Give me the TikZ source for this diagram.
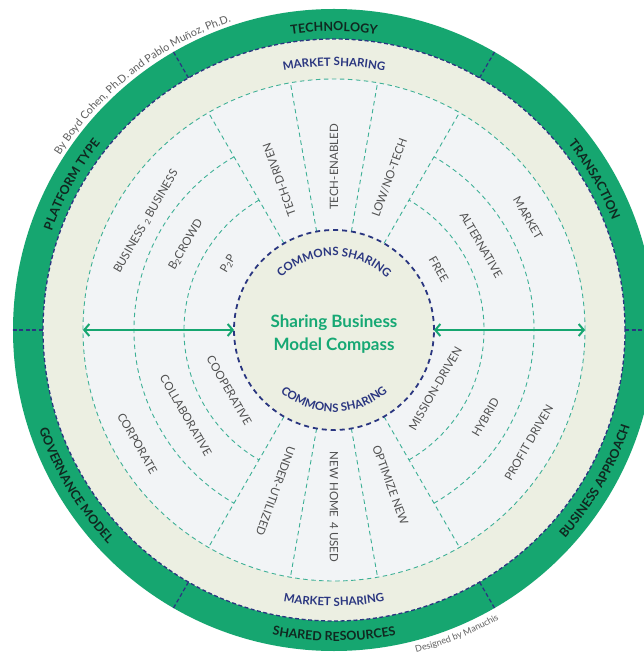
\documentclass[tikz,border=0pt]{standalone}
\usepackage{fontspec}
\setmainfont{Lato}
\usetikzlibrary{decorations.text,arrows.meta}
\definecolor{ringgreen}{RGB}{22,166,112}
\definecolor{beige}{RGB}{236,239,226}
\definecolor{innerfill}{RGB}{242,244,246}
\definecolor{tealdash}{RGB}{62,176,150}
\definecolor{navy}{RGB}{42,54,128}
\definecolor{centergreen}{RGB}{22,168,116}
\definecolor{labelgray}{RGB}{80,80,80}
\definecolor{ringtext}{RGB}{16,40,32}
\definecolor{creditgray}{RGB}{95,95,95}
\newcommand{\ringfont}{\bfseries\fontsize{12.5}{13}\selectfont}
\newcommand{\marketfont}{\bfseries\fontsize{11.5}{12}\selectfont}
\newcommand{\subtwo}{{\fontsize{8}{8}\selectfont\raisebox{-1.5pt}{2}}}
% clockwise arc text (tops outward): radius, centre angle, half span, text
\newcommand{\cwtext}[4]{%
  \pgfmathsetmacro{\sa}{#2+#3}\pgfmathsetmacro{\ea}{#2-#3}%
  \path[decorate,decoration={text along path,text align=center,text={#4}}]
    (\sa:#1) arc[start angle=\sa,end angle=\ea,radius=#1];}
% counter-clockwise arc text (tops inward)
\newcommand{\ccwtext}[4]{%
  \pgfmathsetmacro{\sa}{#2-#3}\pgfmathsetmacro{\ea}{#2+#3}%
  \path[decorate,decoration={text along path,text align=center,text={#4}}]
    (\sa:#1) arc[start angle=\sa,end angle=\ea,radius=#1];}
\tikzset{
  teald/.style={draw=tealdash,line width=0.9pt,dash pattern=on 4.5pt off 3.5pt},
  ringdiv/.style={draw=navy,line width=1.3pt,dash pattern=on 4pt off 2.5pt},
  commonsd/.style={draw=navy,line width=1.8pt,dash pattern=on 5pt off 4pt},
  seclabel/.style={text=labelgray,font=\fontsize{11.5}{12}\selectfont,inner sep=0pt},
  comparrow/.style={draw=ringgreen,line width=2pt,
    {Straight Barb[length=5pt,width=12pt]}-{Straight Barb[length=5pt,width=12pt]}},
}
\begin{document}
\begin{tikzpicture}[x=1pt,y=1pt]
\useasboundingbox (-334,-325) rectangle (310,330);
\clip (-334,-325) rectangle (310,330);
\fill[white] (-334,-325) rectangle (310,330);
% discs
\fill[ringgreen] (0,0) circle[radius=321];
\fill[beige] (0,0) circle[radius=291];
\fill[innerfill] (0,0) circle[radius=251];
\fill[beige] (0,0) circle[radius=100];
% ring boundary and dividers
\draw[ringdiv] (0,0) circle[radius=291];
\foreach \a in {0,60,120,180,240,300}{
  \coordinate (ri\a) at (\a:291); \coordinate (ro\a) at (\a:321);
  \draw[ringdiv] (ri\a) -- (ro\a);
}
% sector structure
\draw[teald] (0,0) circle[radius=251];
\foreach \a in {60,80,100,120,240,260,280,300}{
  \coordinate (si\a) at (\a:100); \coordinate (so\a) at (\a:251);
  \draw[teald] (si\a) -- (so\a);
}
\foreach \r in {150,200}{
  \draw[teald] (-60:\r) arc[start angle=-60,end angle=60,radius=\r];
  \draw[teald] (120:\r) arc[start angle=120,end angle=240,radius=\r];
}
\draw[commonsd] (0,0) circle[radius=100];
% arrows
\coordinate (lo) at (180:251); \coordinate (li) at (180:100);
\coordinate (ro) at (0:251); \coordinate (rin) at (0:100);
\draw[comparrow] (lo) -- (li);
\draw[comparrow] (rin) -- (ro);
% centre title
\node[text=centergreen,font=\bfseries\fontsize{17}{22.5}\selectfont,align=center] (title) at (0,-4) {Sharing Business\\Model Compass};
% outer ring labels
\cwtext{299}{90}{40}{|\ringfont\color{ringtext}|TECHNOLOGY}
\cwtext{299}{30}{40}{|\ringfont\color{ringtext}|TRANSACTION}
\cwtext{299}{151}{40}{|\ringfont\color{ringtext}|PLATFORM TYPE}
\ccwtext{311}{-90}{40}{|\ringfont\color{ringtext}|SHARED RESOURCES}
\ccwtext{311}{-30}{40}{|\ringfont\color{ringtext}|BUSINESS APPROACH}
\ccwtext{311}{211}{40}{|\ringfont\color{ringtext}|GOVERNANCE MODEL}
% market sharing
\cwtext{264}{90}{40}{|\marketfont\color{navy}|MARKET SHARING}
\ccwtext{276}{-90}{40}{|\marketfont\color{navy}|MARKET SHARING}
% commons sharing
\cwtext{74}{90}{80}{|\marketfont\color{navy}|COMMONS SHARING}
\ccwtext{82}{-90}{80}{|\marketfont\color{navy}|COMMONS SHARING}
% credits
\cwtext{325}{128}{40}{|\fontsize{10.8}{11}\selectfont\color{creditgray}|By Boyd Cohen, Ph.D. and Pablo Muñoz, Ph.D.}
\ccwtext{333}{-68}{20}{|\fontsize{9}{9}\selectfont\color{creditgray}|Designed by Manuchis}
% sector labels
\node[seclabel,rotate=110] (td) at (110:160) {TECH-DRIVEN};
\node[seclabel,rotate=90] (te) at (90:163) {TECH-ENABLED};
\node[seclabel,rotate=70] (ln) at (70:162) {LOW/NO-TECH};
\node[seclabel,rotate=-60] (mk) at (30:224) {MARKET};
\node[seclabel,rotate=-60] (al) at (30:170) {ALTERNATIVE};
\node[seclabel,rotate=-60] (fr) at (30:121) {FREE};
\node[seclabel,rotate=60] (md) at (-30:117) {MISSION-DRIVEN};
\node[seclabel,rotate=60] (hy) at (-30:175) {HYBRID};
\node[seclabel,rotate=60] (pd) at (-30:225) {PROFIT DRIVEN};
\node[seclabel,rotate=-110] (uu) at (-110:171) {UNDER-UTILIZED};
\node[seclabel,rotate=-90] (nh) at (-90:177) {NEW HOME \,4 USED};
\node[seclabel,rotate=-70] (on) at (-70:165) {OPTIMIZE NEW};
\node[seclabel,rotate=-60] (co) at (210:121) {COOPERATIVE};
\node[seclabel,rotate=-60] (cl) at (210:171) {COLLABORATIVE};
\node[seclabel,rotate=-60] (cp) at (210:227) {CORPORATE};
\node[seclabel,rotate=60] (bb) at (150:217) {BUSINESS \subtwo{} BUSINESS};
\node[seclabel,rotate=60] (bc) at (150:171) {B\subtwo CROWD};
\node[seclabel,rotate=60] (pp) at (148:125) {P\subtwo P};
\end{tikzpicture}
\end{document}
